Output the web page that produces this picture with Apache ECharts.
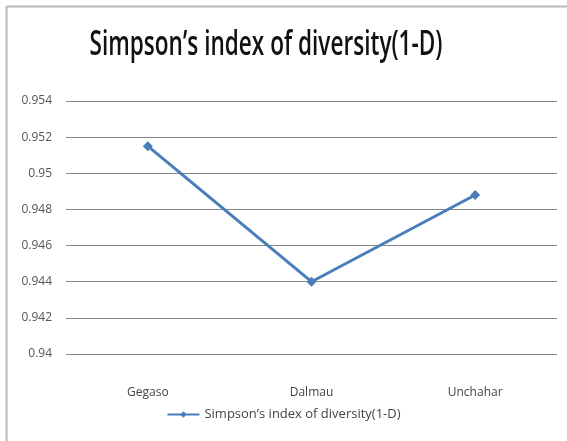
<!DOCTYPE html>
<html>
<head>
<meta charset="utf-8">
<script src="https://cdn.jsdelivr.net/npm/echarts@6/dist/echarts.min.js"></script>
<style>
  html, body { margin: 0; padding: 0; background: #fff; }
  #chart { width: 567px; height: 441px; }
</style>
</head>
<body>
<div id="chart"></div>
<script>
// Sites and their Simpson's diversity index values
const sites = ['Gegaso', 'Dalmau', 'Unchahar'];
const diversity = [0.9515, 0.9440, 0.9488];
const seriesName = 'Simpson\u2019s index of diversity(1-D)';
const titleText = 'Simpson\u2019s index of diversity(1-D)';

// Title is drawn in a condensed look: measure at full size, then squeeze horizontally
const titleFont = '600 34px "Open Sans"';
const titleWidth = 353;
const measured = echarts.format.getTextRect
  ? echarts.format.getTextRect(titleText, titleFont).width
  : (() => { const c = document.createElement('canvas').getContext('2d'); c.font = titleFont; return c.measureText(titleText).width; })();
const titleScale = titleWidth / measured;

const chart = echarts.init(document.getElementById('chart'));
chart.setOption({
  backgroundColor: '#ffffff',
  animation: false,
  graphic: [
    { type: 'line', shape: { x1: 6.5, y1: 6.5, x2: 567, y2: 6.5 }, style: { stroke: '#b8b8b8', lineWidth: 2 } },
    { type: 'line', shape: { x1: 6.5, y1: 6.5, x2: 6.5, y2: 441 }, style: { stroke: '#b8b8b8', lineWidth: 2 } },
    {
      type: 'text',
      x: 266, y: 45,
      scaleX: titleScale,
      style: {
        text: titleText,
        font: titleFont,
        fill: '#111',
        align: 'center',
        verticalAlign: 'middle'
      }
    }
  ],
  legend: {
    data: [seriesName],
    bottom: 15,
    left: 'center',
    itemWidth: 32,
    itemHeight: 8,
    itemGap: 4,
    textStyle: { fontFamily: '"Open Sans", sans-serif', fontSize: 13, color: '#444' }
  },
  grid: { left: 66, right: 10, top: 101, bottom: 87 },
  xAxis: {
    type: 'category',
    data: sites,
    boundaryGap: true,
    axisLine: { show: false },
    axisTick: { show: false },
    axisLabel: { margin: 33, fontFamily: '"Open Sans", sans-serif', fontSize: 12, color: '#444' }
  },
  yAxis: {
    type: 'value',
    min: 0.94,
    max: 0.954,
    interval: 0.002,
    axisLine: { show: false },
    axisTick: { show: false },
    axisLabel: {
      margin: 14,
      fontFamily: '"Open Sans", sans-serif',
      fontSize: 12,
      color: '#555',
      formatter: v => String(parseFloat(v.toFixed(3)))
    },
    splitLine: { lineStyle: { color: '#888', width: 1 } }
  },
  series: [{
    name: seriesName,
    type: 'line',
    data: diversity,
    symbol: 'diamond',
    symbolSize: 10,
    lineStyle: { color: '#4a7ebb', width: 3 },
    itemStyle: { color: '#4a7ebb' }
  }]
});
</script>
</body>
</html>
